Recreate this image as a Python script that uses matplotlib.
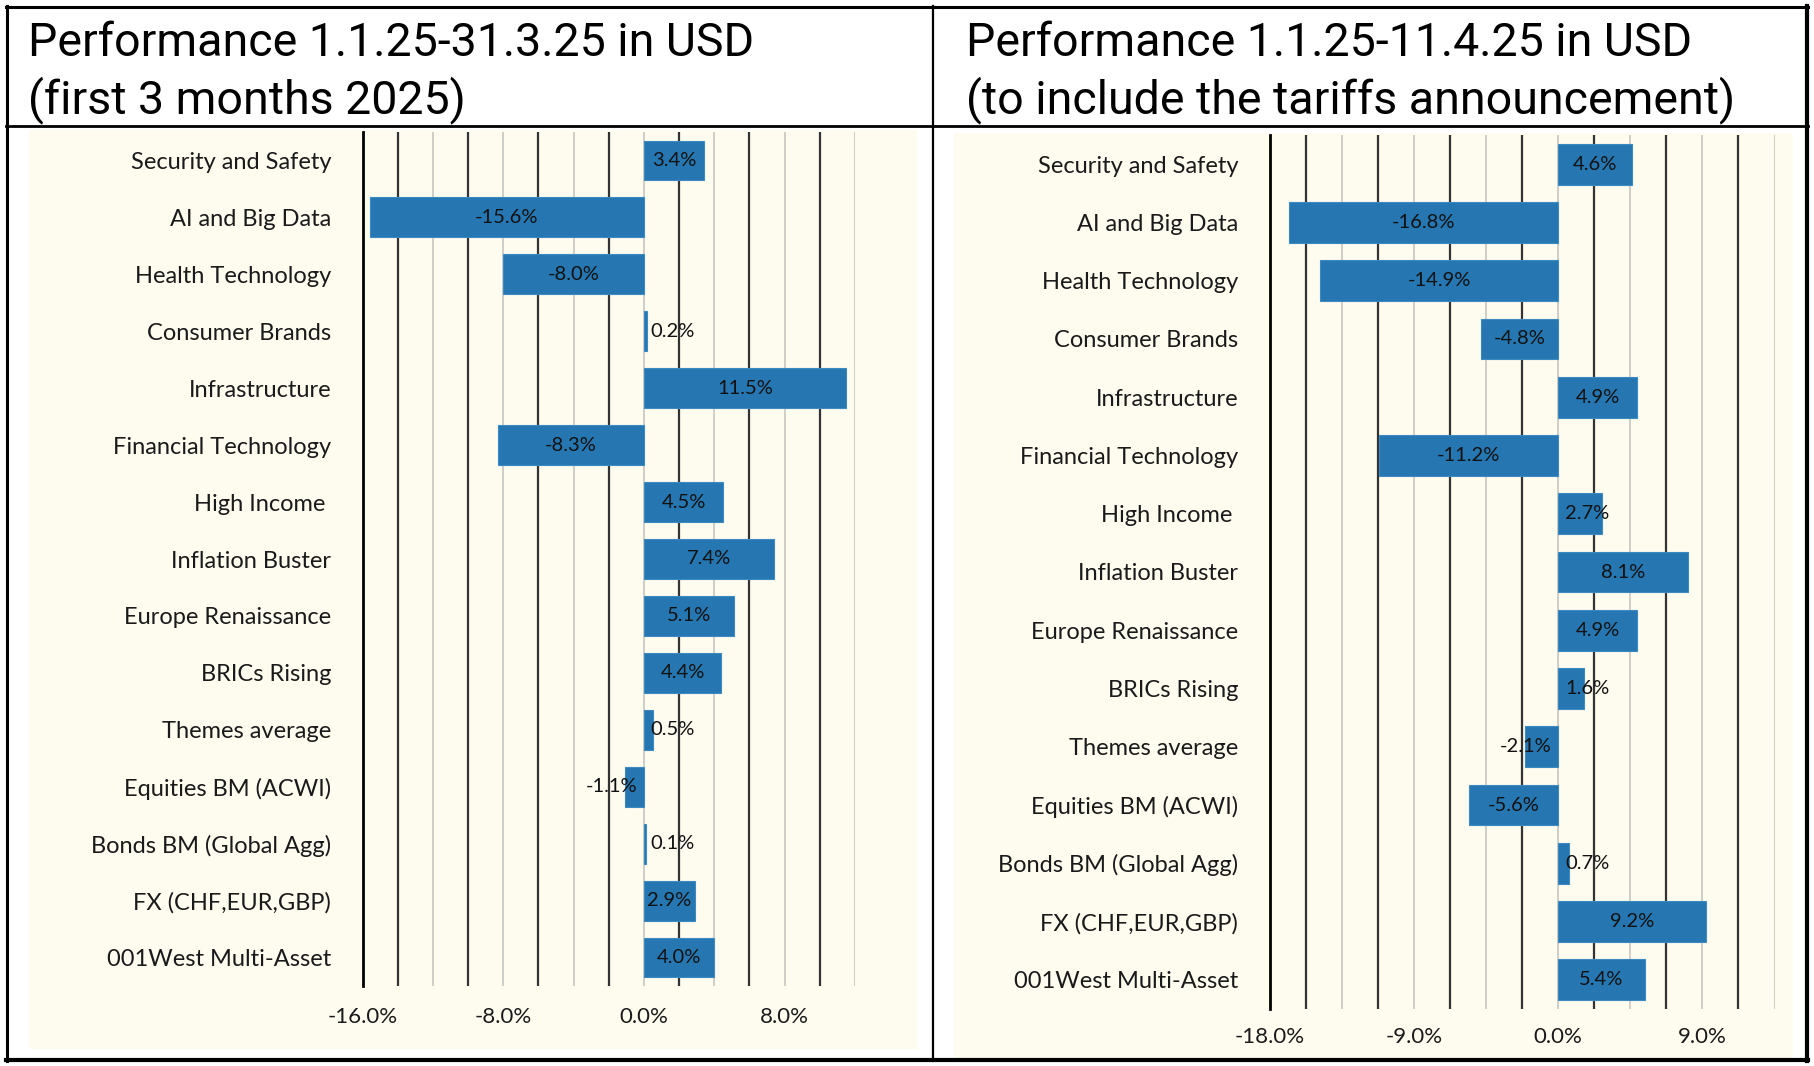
import numpy as np
import matplotlib
matplotlib.use("Agg")
from matplotlib import pyplot as plt
from matplotlib.patches import Rectangle
from matplotlib.lines import Line2D

W, H = 1814, 1066
DPI = 100

categories = ["Security and Safety", "AI and Big Data", "Health Technology",
              "Consumer Brands", "Infrastructure", "Financial Technology",
              "High Income ", "Inflation Buster", "Europe Renaissance",
              "BRICs Rising", "Themes average", "Equities BM (ACWI)",
              "Bonds BM (Global Agg)", "FX (CHF,EUR,GBP)", "001West Multi-Asset"]
perf_q1 = [3.4, -15.6, -8.0, 0.2, 11.5, -8.3, 4.5, 7.4, 5.1, 4.4, 0.5, -1.1, 0.1, 2.9, 4.0]
perf_apr = [4.6, -16.8, -14.9, -4.8, 4.9, -11.2, 2.7, 8.1, 4.9, 1.6, -2.1, -5.6, 0.7, 9.2, 5.4]

title_q1 = ["Performance 1.1.25-31.3.25 in USD", "(first 3 months 2025)"]
title_apr = ["Performance 1.1.25-11.4.25 in USD", "(to include the tariffs announcement)"]

ticks_q1 = [-16, -8, 0, 8]
ticks_apr = [-18, -9, 0, 9]

BAR = "#2677b1"
CREAM = "#fefbef"
LABEL_FONT = "Lato"
TITLE_FONT = "Roboto"

fig = plt.figure(figsize=(W / DPI, H / DPI), dpi=DPI)
fig.patch.set_facecolor("white")


def fx(x):
    return x / W


def fy(y):
    return 1 - y / H


def rect(x0, y0, x1, y1, **kw):
    fig.add_artist(Rectangle((fx(x0), fy(y1)), fx(x1) - fx(x0), fy(y0) - fy(y1),
                             transform=fig.transFigure, **kw))


def hline(x0, x1, y, lw):
    fig.add_artist(Line2D([fx(x0), fx(x1)], [fy(y), fy(y)], color="black", lw=lw,
                          transform=fig.transFigure))


def vline(x, y0, y1, lw):
    fig.add_artist(Line2D([fx(x), fx(x)], [fy(y0), fy(y1)], color="black", lw=lw,
                          transform=fig.transFigure))


# cream panels
rect(29, 130, 917, 1049, facecolor=CREAM, edgecolor="none", zorder=0)
rect(954, 133, 1793, 1058, facecolor=CREAM, edgecolor="none", zorder=0)


def panel(x0, x1, y0, y1, vals, xmin, xmax, step, ticks, pad_y, pad_x):
    ax = fig.add_axes([fx(x0), fy(y1), fx(x1) - fx(x0), fy(y0) - fy(y1)])
    ax.set_facecolor("none")
    y = np.arange(len(categories))
    ax.set_xlim(xmin, xmax)
    ax.set_ylim(len(categories) - 0.5, -0.5)

    grid = np.arange(xmin + step, xmax + step / 2, step)
    for k, g in enumerate(grid, start=1):
        dark = k % 2 == 1
        ax.axvline(g, color="#333333" if dark else "#cfcdc6", lw=1.6 if dark else 1.4, zorder=1)

    bars = ax.barh(y, vals, height=0.7, color=BAR, edgecolor="#3d8ac2", lw=0.8, zorder=2)

    for s in ["top", "right", "bottom"]:
        ax.spines[s].set_visible(False)
    ax.spines["left"].set_linewidth(2.0)
    ax.spines["left"].set_color("black")
    ax.spines["left"].set_zorder(3)

    ax.set_yticks(y)
    ax.set_yticklabels(categories, fontsize=17, family=LABEL_FONT, color="#1a1a1a")
    ax.tick_params(axis="y", length=0, pad=pad_y)
    ax.set_xticks(ticks)
    ax.set_xticklabels([f"{t:.1f}%" for t in ticks], fontsize=16, family=LABEL_FONT,
                       color="#1a1a1a")
    ax.tick_params(axis="x", length=0, pad=pad_x)

    fig.canvas.draw()
    r = fig.canvas.get_renderer()
    for b, v in zip(bars, vals):
        cy = b.get_y() + b.get_height() / 2
        t = ax.text(v / 2, cy, f"{v:.1f}%", ha="center", va="center", fontsize=14.5,
                    family=LABEL_FONT, color="#111111", zorder=4)
        tw = t.get_window_extent(r).width
        bw = abs(ax.transData.transform((v, 0))[0] - ax.transData.transform((0, 0))[0])
        if tw > bw:
            t.remove()
            ax.annotate(f"{v:.1f}%", (0, cy), xytext=(5 if v > 0 else -5, 0),
                        textcoords="offset points", ha="left" if v > 0 else "right",
                        va="center", fontsize=14.5, family=LABEL_FONT, color="#111111",
                        zorder=4)
    return ax


panel(362.5, 855, 132, 986, perf_q1, -16, 12, 2, ticks_q1, 22.5, 15)
panel(1270, 1774.5, 135, 1009, perf_apr, -18, 13.5, 2.25, ticks_apr, 23, 13)

# titles
for x, lines in [(28, title_q1), (966, title_apr)]:
    fig.text(fx(x), fy(56), lines[0], fontsize=33.5, family=TITLE_FONT, va="baseline")
    fig.text(fx(x), fy(113), lines[1], fontsize=33.5, family=TITLE_FONT, va="baseline")

# frame lines
hline(6, 1808, 7, 2.2)
hline(6, 1808, 1060, 3.0)
hline(6, 1808, 126, 2.0)
vline(7, 6, 1061, 2.2)
vline(1807, 6, 1061, 3.0)
vline(933, 6, 1061, 1.6)

fig.savefig("out.png", dpi=DPI)
